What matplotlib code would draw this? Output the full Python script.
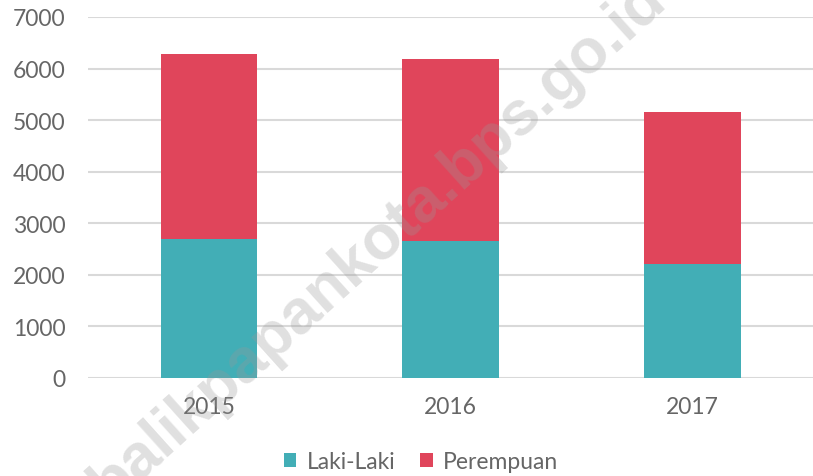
import matplotlib
matplotlib.use("Agg")
import matplotlib.pyplot as plt

years = ["2015", "2016", "2017"]
laki = [2695, 2650, 2205]
perempuan = [3588, 3540, 2947]
yticks = [0, 1000, 2000, 3000, 4000, 5000, 6000, 7000]

teal = "#42AEB6"
red = "#E0455B"
txt = "#666666"

fig = plt.figure(figsize=(8.13, 4.77), dpi=100)
ax = fig.add_axes([88/813, 1-379/477, (813-88)/813, (379-18)/477])

x = range(len(years))
ax.bar(x, laki, width=0.4, color=teal, label="Laki-Laki", zorder=2)
ax.bar(x, perempuan, width=0.4, bottom=laki, color=red, label="Perempuan", zorder=2)

ax.set_xlim(-0.5, 2.5)
ax.set_ylim(0, 7000)
ax.set_yticks(yticks)
ax.set_yticklabels([str(v) for v in yticks])
ax.set_xticks(list(x))
ax.set_xticklabels(years)
ax.yaxis.grid(True, color="#d9d9d9", lw=1.5, zorder=0)
ax.set_axisbelow(True)
for s in ax.spines.values():
    s.set_visible(False)
ax.tick_params(length=0, labelsize=16.5, colors=txt)
ax.tick_params(axis="y", pad=16)
ax.tick_params(axis="x", pad=13)
for lab in ax.get_xticklabels() + ax.get_yticklabels():
    lab.set_fontfamily("Lato")

leg = fig.legend(loc="center", bbox_to_anchor=(421/813, 1-463/477), ncol=2, frameon=False,
                 handlelength=0.55, handleheight=0.55, handletextpad=0.45, columnspacing=1.1,
                 prop={"family": "Lato", "size": 16.5})
for t in leg.get_texts():
    t.set_color(txt)

fig.text(378/813, 1-242/477, "balikpapankota.bps.go.id", rotation=42, rotation_mode="anchor",
         ha="center", va="center", fontsize=45, fontweight="bold", color="#999999",
         alpha=0.3, family="Liberation Sans", zorder=5)

fig.savefig("out.png", dpi=100)
